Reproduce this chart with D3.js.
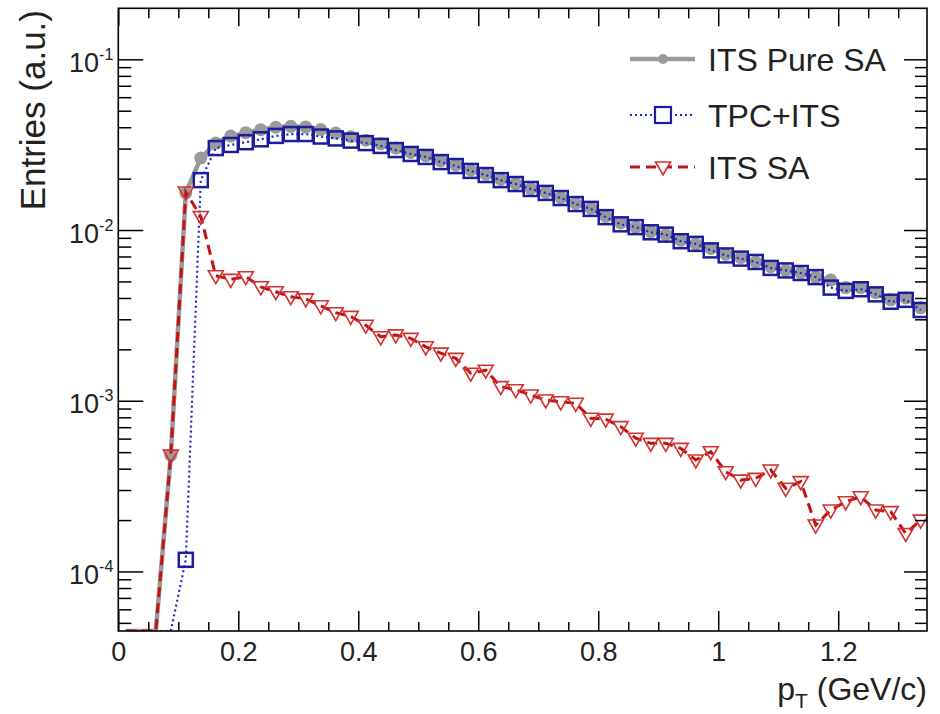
<!DOCTYPE html>
<html>
<head>
<meta charset="utf-8">
<script src="https://cdn.jsdelivr.net/npm/d3@7"></script>
<style>
  html, body { margin: 0; padding: 0; background: #fff; }
  svg { display: block; font-family: "Liberation Sans", Arial, Helvetica, sans-serif; }
</style>
</head>
<body>
<svg id="chart" width="940" height="714"></svg>
<script>
// ---------- DATA ----------
const pT = [0.0125,0.0375,0.0625,0.0875,0.1125,0.1375,0.1625,0.1875,0.2125,0.2375,
  0.2625,0.2875,0.3125,0.3375,0.3625,0.3875,0.4125,0.4375,0.4625,0.4875,
  0.5125,0.5375,0.5625,0.5875,0.6125,0.6375,0.6625,0.6875,0.7125,0.7375,
  0.7625,0.7875,0.8125,0.8375,0.8625,0.8875,0.9125,0.9375,0.9625,0.9875,
  1.0125,1.0375,1.0625,1.0875,1.1125,1.1375,1.1625,1.1875,1.2125,1.2375,
  1.2625,1.2875,1.3125,1.3375];

const itsPureSA = [0,0,0,4.8e-4,0.0165,0.0264,0.0323,0.0355,0.0372,0.0387,
  0.0400,0.0405,0.0402,0.0388,0.0370,0.0352,0.0336,0.0320,0.0302,0.0285,
  0.0272,0.0254,0.0240,0.0224,0.0212,0.0198,0.0187,0.0175,0.0166,0.0155,
  0.0143,0.0134,0.0120,0.0110,0.0104,0.0098,0.0094,0.0087,0.0083,0.0078,
  0.0072,0.0069,0.0065,0.0061,0.0058,0.0056,0.0053,0.0051,0.0046,0.0046,
  0.0043,0.0039,0.0040,0.0035];

const tpcIts = [0,0,0,0,1.17e-4,0.0196,0.0302,0.0315,0.0327,0.0340,
  0.0356,0.0365,0.0365,0.0353,0.0344,0.0334,0.0323,0.0311,0.0294,0.0279,
  0.0268,0.0250,0.0237,0.0222,0.0210,0.0196,0.0186,0.0174,0.0165,0.0154,
  0.0142,0.0133,0.0119,0.0108,0.0104,0.0097,0.0094,0.0086,0.0083,0.0076,
  0.0071,0.0068,0.0065,0.0060,0.0058,0.0056,0.0053,0.0046,0.0044,0.0045,
  0.0042,0.0038,0.0039,0.0034];

const itsSA = [0,0,0,4.8e-4,0.0167,0.0120,0.00540,0.00514,0.00533,0.00465,
  0.00435,0.00407,0.00395,0.00360,0.00328,0.00312,0.00277,0.00237,0.00243,0.00232,
  0.00207,0.00190,0.00177,0.00145,0.00151,0.00121,0.00116,0.00108,0.00101,0.000986,
  0.000966,0.000789,0.000780,0.000705,0.000603,0.000563,0.000563,0.000526,0.000450,0.000503,
  0.000384,0.000343,0.000351,0.000393,0.000307,0.000336,0.000187,0.000229,0.000256,0.000274,
  0.000229,0.000224,0.000167,0.000200];

const seriesNames = ["ITS Pure SA", "TPC+ITS", "ITS SA"];
const xMajorTicks = [0, 0.2, 0.4, 0.6, 0.8, 1.0, 1.2];
const xTickLabels = ["0", "0.2", "0.4", "0.6", "0.8", "1", "1.2"];
const xMinorTicks = [0.05,0.1,0.15,0.25,0.3,0.35,0.45,0.5,0.55,0.65,0.7,0.75,0.85,0.9,0.95,1.05,1.1,1.15,1.25,1.3];
const yMajorTicks = [1e-4, 1e-3, 1e-2, 1e-1];
const yTickExponents = ["-4", "-3", "-2", "-1"];
const xTitle = "p";
const xTitleSub = "T";
const xTitleRest = " (GeV/c)";
const yTitle = "Entries (a.u.)";

// ---------- LAYOUT ----------
const L = 118.3, R = 927, T = 8.3, B = 631;
const xMin = 0, xMax = 1.348, yMin = 4.48e-5, yMax = 0.199;

const svg = d3.select("#chart");
svg.append("rect").attr("width", 940).attr("height", 714).attr("fill", "#fff");

const x = d3.scaleLinear().domain([xMin, xMax]).range([L, R]);
const y = d3.scaleLog().domain([yMin, yMax]).range([B, T]);

const yMinorTicks = [];
[1e-5, 1e-4, 1e-3, 1e-2].forEach(dec => {
  [2,3,4,5,6,7,8,9].forEach(m => { const v = m * dec; if (v > yMin && v < yMax) yMinorTicks.push(v); });
});

svg.append("clipPath").attr("id", "clip")
  .append("rect").attr("x", L).attr("y", T).attr("width", R - L).attr("height", B - T);

const plot = svg.append("g").attr("clip-path", "url(#clip)");

const yv = v => y(v > yMin ? v : yMin);
const mk = arr => pT.map((p, i) => ({ x: p, v: arr[i] }));

const line = d3.line().x(d => x(d.x)).y(d => yv(d.v));

const grayCol = "#9a9a9a", blueCol = "#1c1c9e", redCol = "#c41212", triCol = "#d43030";

// ITS Pure SA (gray)
plot.append("path").datum(mk(itsPureSA)).attr("d", line)
  .attr("fill", "none").attr("stroke", grayCol).attr("stroke-width", 4.5).attr("stroke-linejoin", "round");
plot.selectAll(".gdot").data(mk(itsPureSA).filter(d => d.v > 0)).enter().append("circle")
  .attr("cx", d => x(d.x)).attr("cy", d => yv(d.v)).attr("r", 6.5).attr("fill", grayCol);

// TPC+ITS (blue)
plot.append("path").datum(mk(tpcIts)).attr("d", line)
  .attr("fill", "none").attr("stroke", "#2626c8").attr("stroke-width", 2.2).attr("stroke-dasharray", "2,3");
const sq = 14;
plot.selectAll(".bsq").data(mk(tpcIts).filter(d => d.v > 0)).enter().append("rect")
  .attr("x", d => x(d.x) - sq / 2).attr("y", d => yv(d.v) - sq / 2)
  .attr("width", sq).attr("height", sq)
  .attr("fill", "none").attr("stroke", blueCol).attr("stroke-width", 2.5);

// ITS SA (red)
plot.append("path").datum(mk(itsSA)).attr("d", line)
  .attr("fill", "none").attr("stroke", redCol).attr("stroke-width", 3).attr("stroke-dasharray", "10,6");
const tri = (cx, cy) => `M${cx - 7.5},${cy - 5} L${cx + 7.5},${cy - 5} L${cx},${cy + 8} Z`;
plot.selectAll(".rtri").data(mk(itsSA).filter(d => d.v > 0)).enter().append("path")
  .attr("d", d => tri(x(d.x), yv(d.v)))
  .attr("fill", "none").attr("stroke", triCol).attr("stroke-width", 1.6);

// ---------- AXES ----------
const axStyle = g => {
  g.select(".domain").remove();
  g.selectAll("line").attr("stroke", "#000").attr("stroke-width", 1.5);
};

// bottom
svg.append("g").attr("transform", `translate(0,${B})`)
  .call(d3.axisBottom(x).tickValues(xMajorTicks).tickSize(-20).tickPadding(11)
    .tickFormat((d, i) => xTickLabels[i]))
  .call(axStyle)
  .call(g => g.selectAll("text").attr("font-size", 27).attr("fill", "#222")
    .attr("font-family", "'Liberation Sans', Arial, sans-serif"));
svg.append("g").attr("transform", `translate(0,${B})`)
  .call(d3.axisBottom(x).tickValues(xMinorTicks).tickSize(-9).tickFormat(""))
  .call(axStyle);
// top
svg.append("g").attr("transform", `translate(0,${T})`)
  .call(d3.axisTop(x).tickValues(xMajorTicks).tickSize(-18).tickFormat(""))
  .call(axStyle);
svg.append("g").attr("transform", `translate(0,${T})`)
  .call(d3.axisTop(x).tickValues(xMinorTicks).tickSize(-10).tickFormat(""))
  .call(axStyle);
// left
svg.append("g").attr("transform", `translate(${L},0)`)
  .call(d3.axisLeft(y).tickValues(yMajorTicks).tickSize(-25).tickPadding(5).tickFormat(() => ""))
  .call(axStyle)
  .call(g => g.selectAll(".tick text").each(function (d, i) {
    const t = d3.select(this);
    t.text(null).attr("dy", "0.45em").attr("font-size", 27).attr("fill", "#222")
      .attr("font-family", "'Liberation Sans', Arial, sans-serif");
    t.append("tspan").text("10");
    t.append("tspan").attr("font-size", 16).attr("dy", "-0.75em").text(yTickExponents[i]);
  }));
svg.append("g").attr("transform", `translate(${L},0)`)
  .call(d3.axisLeft(y).tickValues(yMinorTicks).tickSize(-13).tickFormat(""))
  .call(axStyle);
// right
svg.append("g").attr("transform", `translate(${R},0)`)
  .call(d3.axisRight(y).tickValues(yMajorTicks).tickSize(-23).tickFormat(""))
  .call(axStyle);
svg.append("g").attr("transform", `translate(${R},0)`)
  .call(d3.axisRight(y).tickValues(yMinorTicks).tickSize(-12).tickFormat(""))
  .call(axStyle);

// frame
svg.append("rect").attr("x", L).attr("y", T).attr("width", R - L).attr("height", B - T)
  .attr("fill", "none").attr("stroke", "#000").attr("stroke-width", 1.6);

// axis titles
const xt = svg.append("text").attr("x", R).attr("y", 700).attr("text-anchor", "end")
  .attr("font-size", 32).attr("fill", "#222");
xt.append("tspan").text(xTitle);
xt.append("tspan").attr("font-size", 21).attr("dy", 8).text(xTitleSub);
xt.append("tspan").attr("dy", -8).text(xTitleRest);

svg.append("text").attr("transform", "translate(45,10) rotate(-90)")
  .attr("text-anchor", "end").attr("font-size", 35).attr("fill", "#222").text(yTitle);

// ---------- LEGEND ----------
const legRows = [59, 115, 167];
const lx0 = 630, lx1 = 695, lmx = 663, ltx = 708;
const leg = svg.append("g");
// gray
leg.append("line").attr("x1", lx0).attr("x2", lx1).attr("y1", legRows[0]).attr("y2", legRows[0])
  .attr("stroke", grayCol).attr("stroke-width", 4.5);
leg.append("circle").attr("cx", lmx).attr("cy", legRows[0]).attr("r", 5).attr("fill", grayCol);
// blue
leg.append("line").attr("x1", lx0).attr("x2", lx1).attr("y1", legRows[1]).attr("y2", legRows[1])
  .attr("stroke", "#2626c8").attr("stroke-width", 2.2).attr("stroke-dasharray", "2,3");
leg.append("rect").attr("x", lmx - 8).attr("y", legRows[1] - 8).attr("width", 16).attr("height", 16)
  .attr("fill", "#fff").attr("stroke", blueCol).attr("stroke-width", 2.2);
// red
leg.append("line").attr("x1", lx0).attr("x2", lx1).attr("y1", legRows[2]).attr("y2", legRows[2])
  .attr("stroke", redCol).attr("stroke-width", 3).attr("stroke-dasharray", "10,6");
leg.append("path").attr("d", tri(lmx, legRows[2])).attr("fill", "#fff")
  .attr("stroke", triCol).attr("stroke-width", 1.6);
seriesNames.forEach((n, i) => {
  leg.append("text").attr("x", ltx).attr("y", legRows[i] + 11.5)
    .attr("font-size", 32).attr("fill", "#222").text(n);
});
</script>
</body>
</html>
